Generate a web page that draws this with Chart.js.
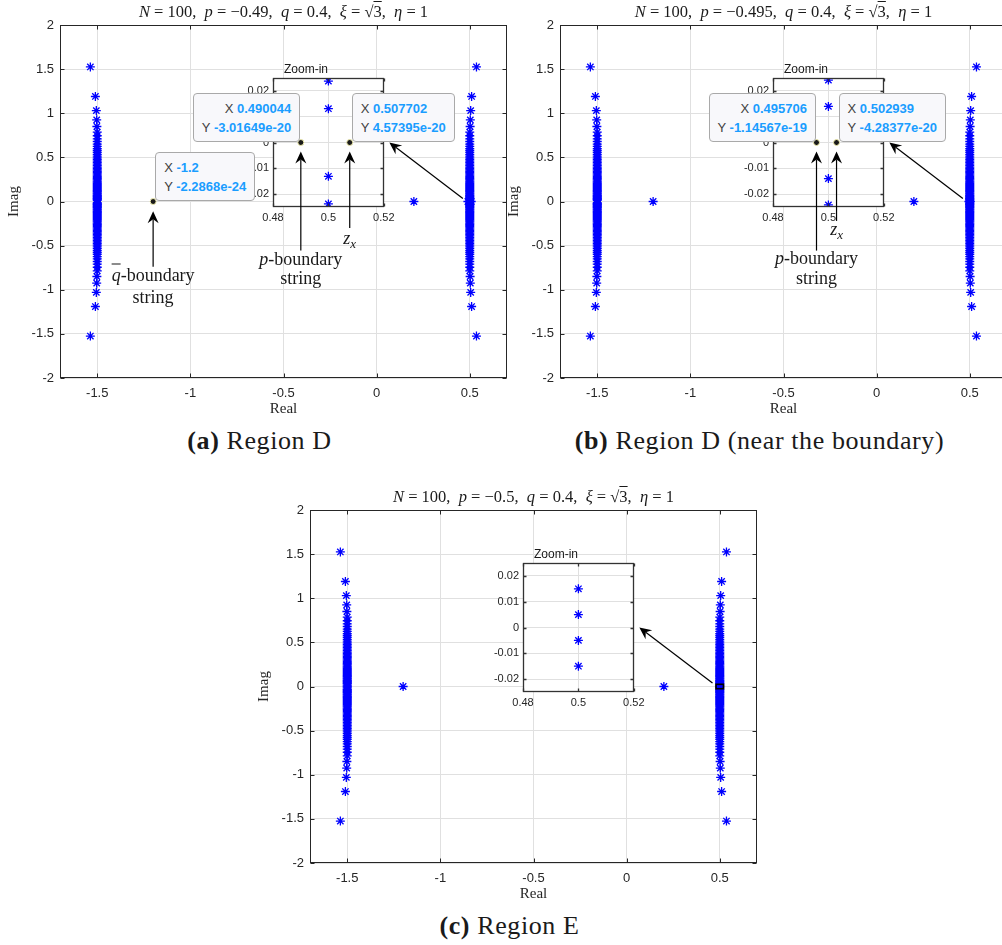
<!DOCTYPE html>
<html>
<head>
<meta charset="utf-8">
<script src="https://cdn.jsdelivr.net/npm/chart.js@4.4.0/dist/chart.umd.min.js"></script>
<style>
  body { margin: 0; background: #fff; }
  #fig { position: relative; width: 1002px; height: 945px; overflow: hidden; }
  #fig canvas { position: absolute; }
  .ttl, .cap, .lbl { position: absolute; transform: translate(-50%, -50%); font-family: "Liberation Serif", serif; white-space: nowrap; color: #1a1a1a; }
  .ttl { font-size: 16.5px; z-index: 6; }
  .cap { font-size: 26px; letter-spacing: 0.6px; }
  .lbl { font-size: 18px; line-height: 21px; text-align: center; z-index: 6; }
  .lbl sub { font-size: 13px; vertical-align: -4px; }
  .ov { text-decoration: overline; }
  .tip { position: absolute; z-index: 7; background: #f8f8fb; border: 1px solid #a9a9a9; border-radius: 4px;
         font-family: "Liberation Sans", Arial, sans-serif; font-size: 13px; line-height: 19px; padding: 5px 8px 4px 8px;
         color: #404040; white-space: nowrap; }
  .tip b { color: #1a9dff; }
</style>
</head>
<body>
<div id="fig"></div>
<script>
// datos
const xTicks = [-1.5, -1, -0.5, 0, 0.5];
const yTicks = [-2, -1.5, -1, -0.5, 0, 0.5, 1, 1.5, 2];
const xRange = [-1.7, 0.7];
const yRange = [-2, 2];
const insetXTicks = [0.48, 0.5, 0.52];
const insetYTicks = [-0.02, -0.01, 0, 0.01, 0.02];
const insetXRange = [0.48, 0.52];
const insetYRange = [-0.025, 0.025];

// estrellas aisladas de cada string (mitad superior, se refleja en -Imag)
const outerImag = [1.525, 1.19, 1.03, 0.925, 0.85];
const rightOuterRe = [0.536, 0.51, 0.505, 0.503, 0.502];
const leftOuterRe = [-1.537, -1.51, -1.505, -1.503, -1.502];
// parte densa de los strings (mitad superior)
const denseImag = [0.785, 0.745, 0.71, 0.68, 0.65, 0.625, 0.6, 0.578, 0.556, 0.535, 0.515, 0.495,
  0.476, 0.458, 0.44, 0.423, 0.406, 0.39, 0.374, 0.358, 0.343, 0.328, 0.313, 0.299, 0.285, 0.271,
  0.258, 0.245, 0.232, 0.219, 0.207, 0.195, 0.183, 0.171, 0.16, 0.149, 0.138, 0.127, 0.116, 0.106,
  0.096, 0.086, 0.076, 0.066, 0.057, 0.048, 0.039, 0.031];
const rightStringRe = 0.5;
const leftStringRe = -1.5;
// raíces reales aisladas
const loneRe = [-1.2, 0.2];

// raíces cerca de cero, por panel
const nearImagA = [0.0131, 0.0238];
const nearImagB = [0.014, 0.0242];
const nearImagC = [0.005, 0.015];

// datatips: X, Y tal como aparecen
const tipsA = [
  { on: 'inset', x: '0.490044', y: '-3.01649e-20', side: 'left' },
  { on: 'inset', x: '0.507702', y: '4.57395e-20', side: 'right' },
  { on: 'main', x: '-1.2', y: '-2.2868e-24', side: 'right' }
];
const tipsB = [
  { on: 'inset', x: '0.495706', y: '-1.14567e-19', side: 'left' },
  { on: 'inset', x: '0.502939', y: '-4.28377e-20', side: 'right' }
];
const tipsC = [];

// flechas y textos en coordenadas de datos [gráfico, x, y]
const arrowsA = [
  { from: ['main', -1.2, -0.74], to: ['main', -1.2, -0.11] },
  { from: ['inset', 0.490044, -0.0419], to: ['inset', 0.490044, -0.0035] },
  { from: ['inset', 0.507702, -0.0331], to: ['inset', 0.507702, -0.0035] },
  { from: ['main', 0.463, 0.035], to: ['inset', 0.522, 0] }
];
const arrowsB = [
  { from: ['inset', 0.495706, -0.0419], to: ['inset', 0.495706, -0.0035] },
  { from: ['inset', 0.502939, -0.0304], to: ['inset', 0.502939, -0.0035] },
  { from: ['main', 0.463, 0.035], to: ['inset', 0.522, 0] }
];
const arrowsC = [
  { from: ['main', 0.461, 0.04], to: ['inset', 0.522, 0] }
];
const labelsA = [
  { at: ['main', -1.2, -0.83], html: '<span class="ov"><i>q</i></span>-boundary' },
  { at: ['main', -1.2, -1.08], html: 'string' },
  { at: ['inset', 0.490044, -0.045], html: '<i>p</i>-boundary' },
  { at: ['inset', 0.490044, -0.0527], html: 'string' },
  { at: ['inset', 0.507702, -0.0381], html: '<i>z</i><sub><i>x</i></sub>' }
];
const labelsB = [
  { at: ['inset', 0.495706, -0.0446], html: '<i>p</i>-boundary' },
  { at: ['inset', 0.495706, -0.0527], html: 'string' },
  { at: ['inset', 0.502939, -0.0346], html: '<i>z</i><sub><i>x</i></sub>' }
];

const panels = [
  { left: 0, top: 0, p: '−0.49', caption: '<b>(a)</b> Region D', near: nearImagA, tips: tipsA, arrows: arrowsA, labels: labelsA, zoomBox: false },
  { left: 500, top: 0, p: '−0.495', caption: '<b>(b)</b> Region D (near the boundary)', near: nearImagB, tips: tipsB, arrows: arrowsB, labels: labelsB, zoomBox: false },
  { left: 250, top: 485, p: '−0.5', caption: '<b>(c)</b> Region E', near: nearImagC, tips: tipsC, arrows: arrowsC, labels: [], zoomBox: true }
];

const sans = '"Liberation Sans", Arial, sans-serif';
const serif = '"Liberation Serif", "Times New Roman", serif';
const ink = '#262626';
Chart.defaults.font.family = sans;

const fig = document.getElementById('fig');

// marco con ticks hacia dentro (estilo MATLAB)
const frame = {
  id: 'frame',
  beforeDraw(chart, args, o) {
    if (!o.fill) return;
    const a = chart.chartArea, ctx = chart.ctx;
    ctx.save();
    ctx.fillStyle = '#fff';
    ctx.fillRect(a.left, a.top, a.right - a.left, a.bottom - a.top);
    ctx.restore();
  },
  afterDraw(chart, args, o) {
    const { ctx, chartArea: a, scales } = chart;
    const L = Math.round(a.left) + 0.5, R = Math.round(a.right) - 0.5;
    const T = Math.round(a.top) + 0.5, B = Math.round(a.bottom) - 0.5;
    ctx.save();
    ctx.strokeStyle = o.color;
    ctx.lineWidth = o.width;
    ctx.strokeRect(L, T, R - L, B - T);
    ctx.beginPath();
    scales.x.ticks.forEach(t => {
      const x = Math.round(scales.x.getPixelForValue(t.value)) + 0.5;
      ctx.moveTo(x, B); ctx.lineTo(x, B - o.tick);
      ctx.moveTo(x, T); ctx.lineTo(x, T + o.tick);
    });
    scales.y.ticks.forEach(t => {
      const y = Math.round(scales.y.getPixelForValue(t.value)) + 0.5;
      ctx.moveTo(L, y); ctx.lineTo(L + o.tick, y);
      ctx.moveTo(R, y); ctx.lineTo(R - o.tick, y);
    });
    ctx.stroke();
    if (o.zoomBox) {
      const x0 = scales.x.getPixelForValue(insetXRange[0]), x1 = scales.x.getPixelForValue(insetXRange[1]);
      const y0 = scales.y.getPixelForValue(insetYRange[1]), y1 = scales.y.getPixelForValue(insetYRange[0]);
      ctx.strokeStyle = '#000';
      ctx.lineWidth = 1.6;
      ctx.strokeRect(x0, y0, x1 - x0, y1 - y0);
    }
    ctx.restore();
  }
};

function makeCanvas(left, top, w, h, z) {
  const c = document.createElement('canvas');
  c.width = w; c.height = h;
  c.style.left = left + 'px'; c.style.top = top + 'px';
  c.style.zIndex = z;
  fig.appendChild(c);
  return c;
}

function axis(range, ticks, size, fontSize, pad, title) {
  return {
    type: 'linear', min: range[0], max: range[1],
    afterBuildTicks: s => { s.ticks = ticks.map(v => ({ value: v })); },
    afterFit: s => { if (s.isHorizontal()) s.height = size; else s.width = size; },
    grid: { color: '#e0e0e0', drawTicks: false },
    border: { display: false },
    ticks: { padding: pad, color: ink, font: { size: fontSize }, callback: v => String(v) },
    title: title
  };
}

function starSet(data) {
  return { data: data, pointStyle: 'star', radius: 4.5, borderWidth: 1.3, borderColor: '#0000ff', backgroundColor: '#0000ff' };
}
function tipSet(data) {
  return { data: data, pointStyle: 'circle', radius: 3, borderWidth: 1, borderColor: '#f2efb0', backgroundColor: '#1a1a1a' };
}

function buildPanel(pn) {
  // raíces del gráfico principal
  const stars = [];
  outerImag.forEach((v, i) => {
    stars.push({ x: rightOuterRe[i], y: v }, { x: rightOuterRe[i], y: -v });
    stars.push({ x: leftOuterRe[i], y: v }, { x: leftOuterRe[i], y: -v });
  });
  denseImag.concat(pn.near).forEach(v => {
    stars.push({ x: rightStringRe, y: v }, { x: rightStringRe, y: -v });
    stars.push({ x: leftStringRe, y: v }, { x: leftStringRe, y: -v });
  });
  const mainTips = pn.tips.filter(t => t.on === 'main').map(t => ({ x: parseFloat(t.x), y: parseFloat(t.y) }));
  loneRe.forEach(r => {
    if (!mainTips.some(t => t.x === r)) stars.push({ x: r, y: 0 });
  });
  pn.tips.filter(t => t.on === 'inset').forEach(t => stars.push({ x: parseFloat(t.x), y: parseFloat(t.y) }));

  pn.mainPos = { left: pn.left, top: pn.top };
  const mc = makeCanvas(pn.left, pn.top, 515, 430, 1);
  pn.main = new Chart(mc, {
    type: 'scatter',
    data: { datasets: [starSet(stars), tipSet(mainTips)] },
    options: {
      responsive: false, animation: false, devicePixelRatio: 1,
      layout: { padding: { top: 25, right: 8, bottom: 12, left: 0 } },
      plugins: {
        legend: { display: false }, tooltip: { enabled: false },
        frame: { color: ink, width: 1, tick: 4, fill: false, zoomBox: pn.zoomBox }
      },
      scales: {
        x: axis(xRange, xTicks, 40, 13, 8, { display: true, text: 'Real', color: ink, font: { family: serif, size: 15 }, padding: 0 }),
        y: axis(yRange, yTicks, 60, 13, 6, { display: true, text: 'Imag', color: ink, font: { family: serif, size: 15 }, padding: { top: 5, bottom: 0 } })
      }
    },
    plugins: [frame]
  });

  // inset "Zoom-in"
  const insetStars = [];
  pn.near.forEach(v => insetStars.push({ x: rightStringRe, y: v }, { x: rightStringRe, y: -v }));
  const insetTips = pn.tips.filter(t => t.on === 'inset').map(t => ({ x: parseFloat(t.x), y: parseFloat(t.y) }));
  pn.insetPos = { left: pn.left + 223, top: pn.top + 55 };
  const ic = makeCanvas(pn.insetPos.left, pn.insetPos.top, 176, 172, 2);
  pn.inset = new Chart(ic, {
    type: 'scatter',
    data: { datasets: [starSet(insetStars), tipSet(insetTips)] },
    options: {
      responsive: false, animation: false, devicePixelRatio: 1,
      layout: { padding: { top: 7.6, right: 10, bottom: 0, left: 0 } },
      plugins: {
        legend: { display: false }, tooltip: { enabled: false },
        title: { display: true, text: 'Zoom-in', color: '#1a1a1a', font: { size: 12, weight: 'normal' }, padding: { top: 0, bottom: 1 } },
        frame: { color: '#333', width: 1.3, tick: 3, fill: true, zoomBox: false }
      },
      scales: {
        x: axis(insetXRange, insetXTicks, 20, 11, 4.5, { display: false }),
        y: axis(insetYRange, insetYTicks, 50, 11, 4, { display: false })
      }
    },
    plugins: [frame]
  });
}

panels.forEach(buildPanel);

// coordenadas de datos -> píxeles de la figura
function toPx(pn, ref) {
  const ch = ref[0] === 'inset' ? pn.inset : pn.main;
  const off = ref[0] === 'inset' ? pn.insetPos : pn.mainPos;
  return [off.left + ch.scales.x.getPixelForValue(ref[1]), off.top + ch.scales.y.getPixelForValue(ref[2])];
}

function drawArrow(ctx, p0, p1) {
  const dx = p1[0] - p0[0], dy = p1[1] - p0[1];
  const len = Math.hypot(dx, dy);
  const ux = dx / len, uy = dy / len, nx = -uy, ny = ux;
  const L = 12, W = 5.5, N = 4;
  ctx.beginPath();
  ctx.moveTo(p0[0], p0[1]);
  ctx.lineTo(p1[0] - ux * (L - N), p1[1] - uy * (L - N));
  ctx.stroke();
  ctx.beginPath();
  ctx.moveTo(p1[0], p1[1]);
  ctx.lineTo(p1[0] - ux * L + nx * W, p1[1] - uy * L + ny * W);
  ctx.lineTo(p1[0] - ux * (L - N), p1[1] - uy * (L - N));
  ctx.lineTo(p1[0] - ux * L - nx * W, p1[1] - uy * L - ny * W);
  ctx.closePath();
  ctx.fill();
}

const overlay = makeCanvas(0, 0, 1002, 945, 5);
const octx = overlay.getContext('2d');
octx.strokeStyle = '#000';
octx.fillStyle = '#000';
octx.lineWidth = 1.2;

function addDiv(cls, html, x, y) {
  const d = document.createElement('div');
  d.className = cls;
  d.innerHTML = html;
  d.style.left = x + 'px';
  d.style.top = y + 'px';
  fig.appendChild(d);
  return d;
}

panels.forEach(pn => {
  const a = pn.main.chartArea;
  const cx = pn.left + (a.left + a.right) / 2;
  addDiv('ttl', '<i>N</i> = 100, &nbsp;<i>p</i> = ' + pn.p + ', &nbsp;<i>q</i> = 0.4, &nbsp;<i>ξ</i> = √<span class="ov">3</span>, &nbsp;<i>η</i> = 1',
    cx, pn.top + a.top - 13);
  addDiv('cap', pn.caption, cx - 24, pn.top + a.bottom + 63);

  pn.arrows.forEach(ar => drawArrow(octx, toPx(pn, ar.from), toPx(pn, ar.to)));
  pn.labels.forEach(lb => {
    const p = toPx(pn, lb.at);
    addDiv('lbl', lb.html, p[0], p[1]);
  });

  pn.tips.forEach(t => {
    const p = toPx(pn, [t.on, parseFloat(t.x), parseFloat(t.y)]);
    const d = addDiv('tip', 'X <b>' + t.x + '</b><br>Y <b>' + t.y + '</b>', 0, 0);
    if (t.side === 'left') {
      d.style.textAlign = 'right';
      d.style.left = (p[0] - 1 - d.offsetWidth) + 'px';
    } else {
      d.style.textAlign = 'left';
      d.style.left = (p[0] + 2) + 'px';
    }
    d.style.top = (p[1] - 1 - d.offsetHeight) + 'px';
  });
});
</script>
</body>
</html>
